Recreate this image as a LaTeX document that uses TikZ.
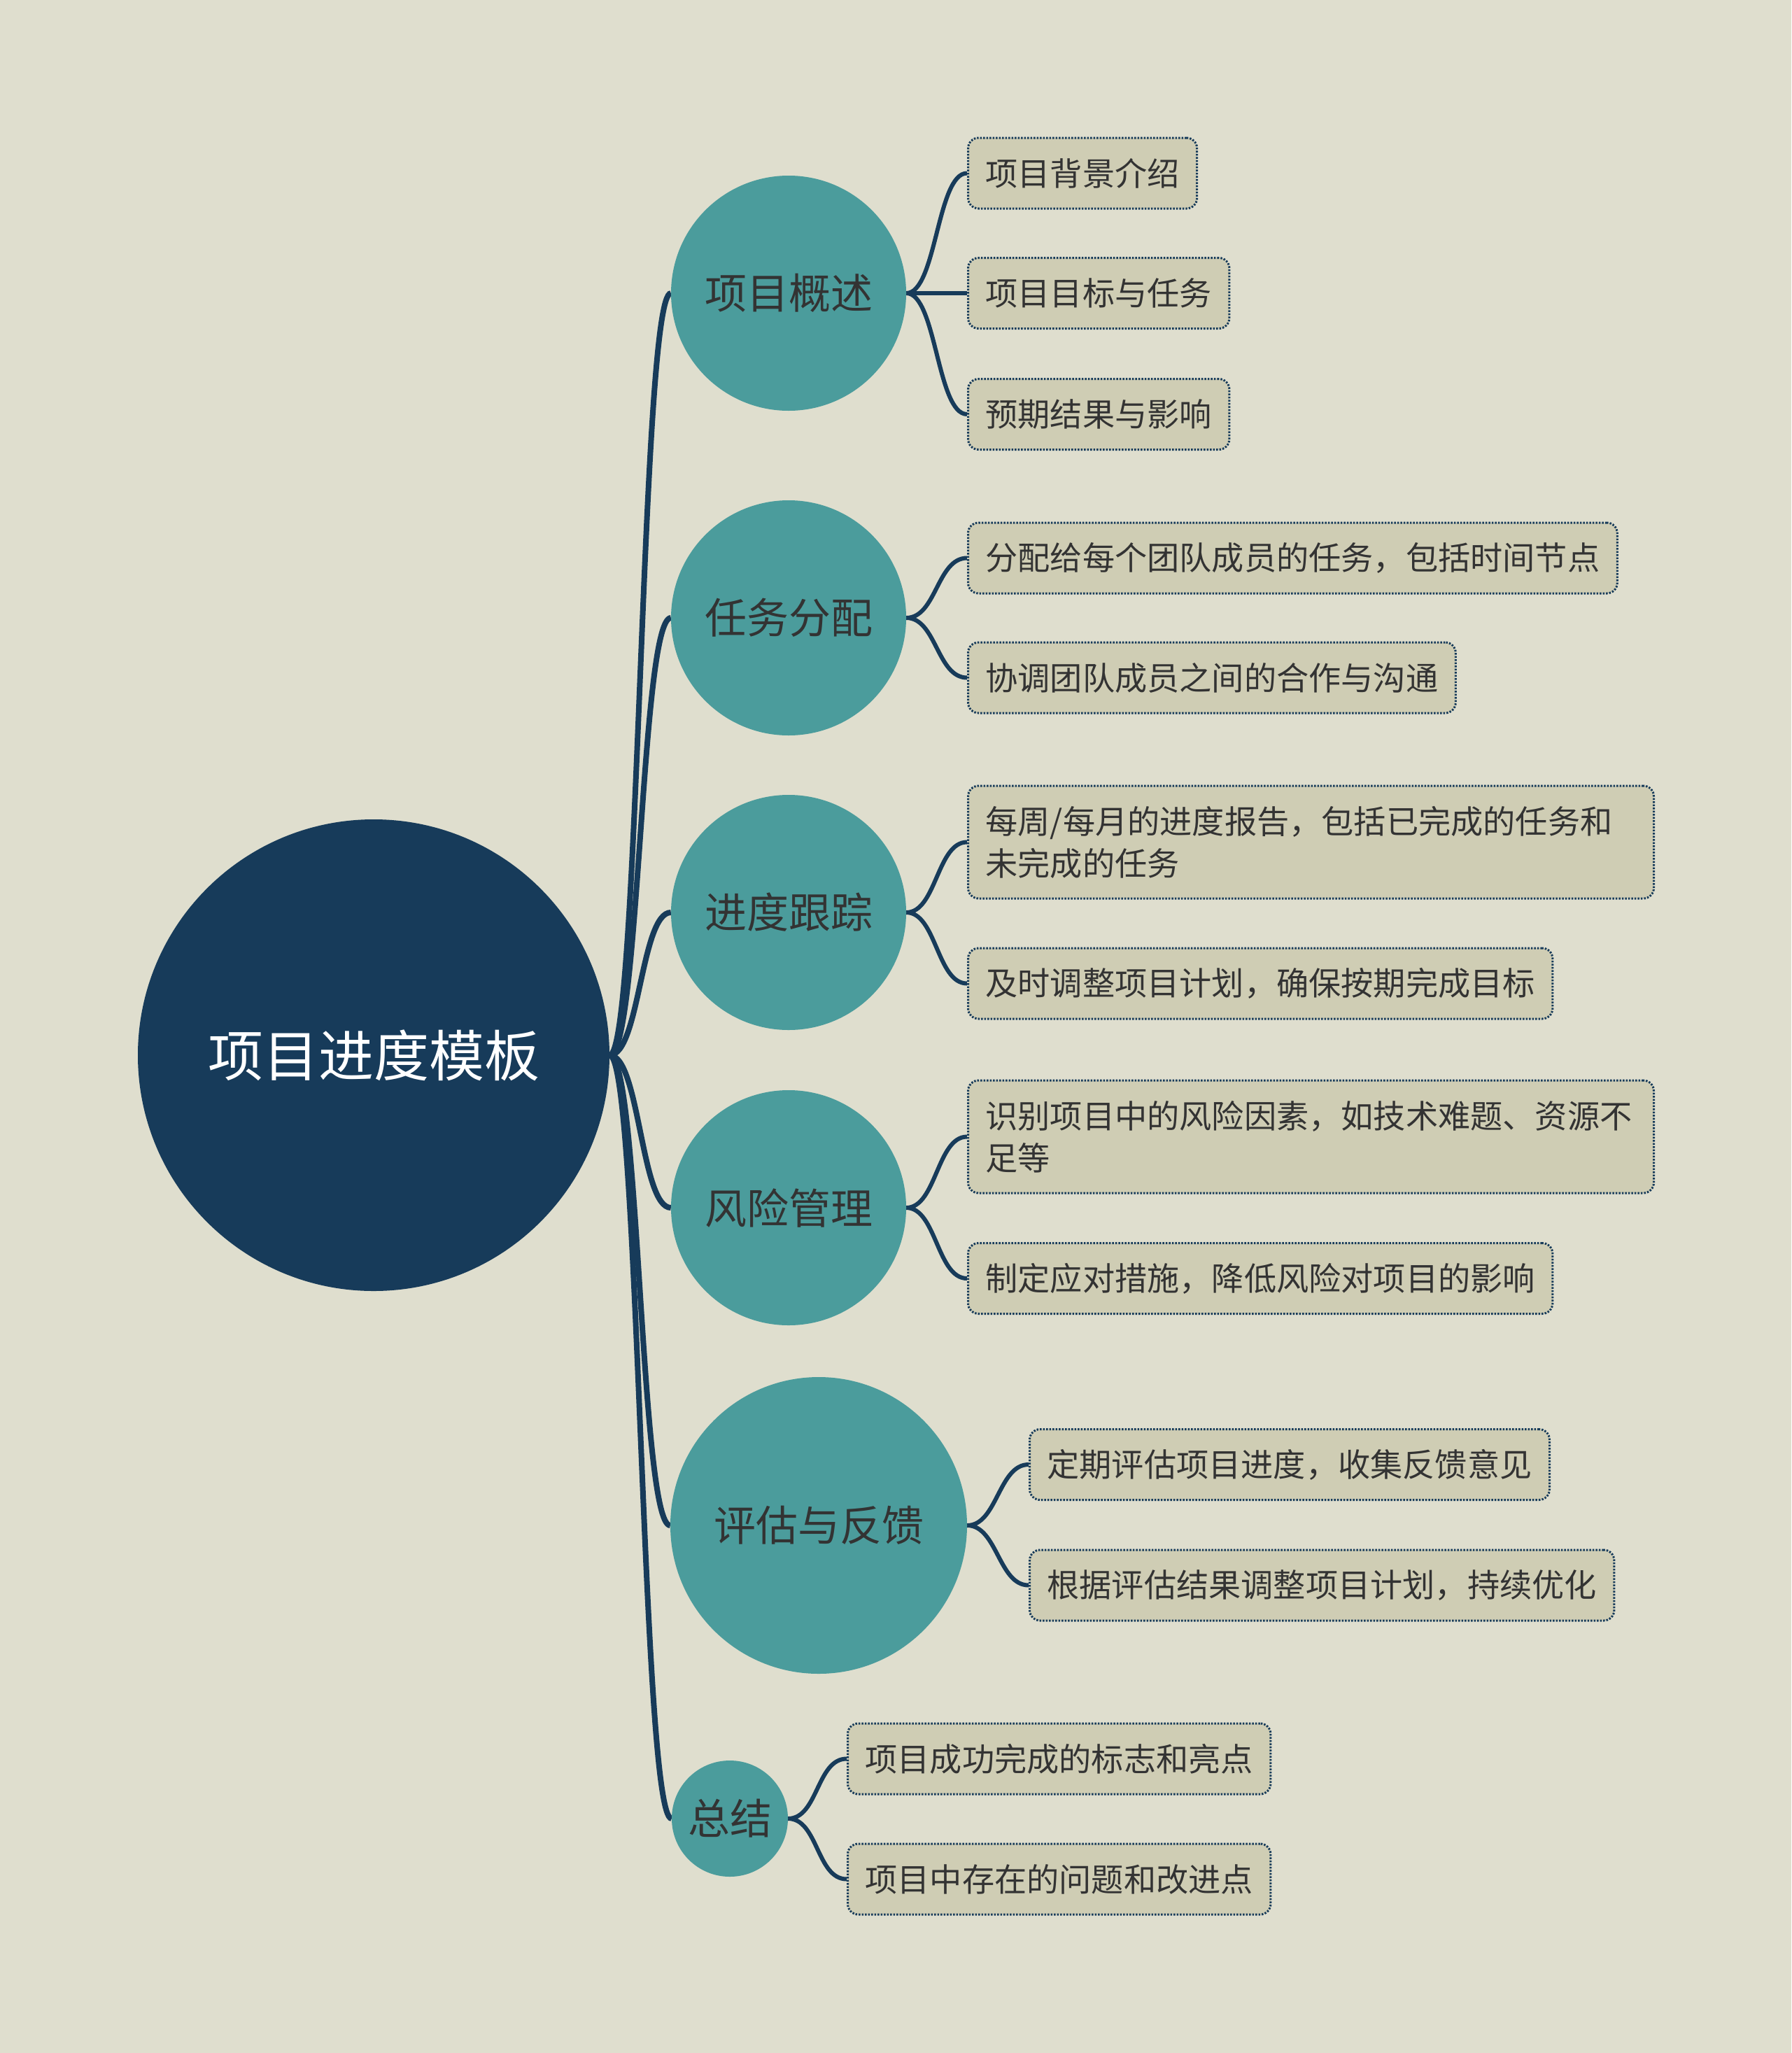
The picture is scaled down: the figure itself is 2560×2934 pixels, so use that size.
\documentclass[tikz,border=0pt]{standalone}
\usepackage{fontspec}
\newfontfamily\cjkfont{Noto Sans CJK SC}
\usetikzlibrary{backgrounds}
\definecolor{bgc}{HTML}{DFDECE}
\definecolor{navy}{HTML}{173B5A}
\definecolor{tealc}{HTML}{4B9C9C}
\definecolor{leaffill}{HTML}{CFCDB4}
\definecolor{txt}{HTML}{333333}
\tikzset{
 rootnode/.style={circle, fill=navy, minimum size=674pt, inner sep=0pt, text=white, font=\cjkfont\fontsize{79}{90}\selectfont},
 branchnode/.style={circle, fill=tealc, inner sep=0pt, text=txt, font=\cjkfont\fontsize{60}{72}\selectfont},
 leafnode/.style={anchor=west, rounded corners=15pt, fill=leaffill, draw=navy, line width=3pt, dash pattern=on 2.5pt off 2pt, text=txt, font=\cjkfont\fontsize{46.2}{60}\selectfont, inner xsep=25pt, inner ysep=0pt, minimum height=101pt},
 widenode/.style={leafnode, text width=930pt, align=left, minimum height=161pt},
 rootlink/.style={draw=navy, line width=8pt},
 leaflink/.style={draw=navy, line width=6pt},
}
\begin{document}
\begin{tikzpicture}[x=1pt,y=-1pt]
\useasboundingbox (0,0) rectangle (2560,2934);
\begin{pgfonlayer}{background}
\fill[bgc] (0,0) rectangle (2560,2934);
\end{pgfonlayer}

\node[rootnode] (root) at (534,1508) {项目进度模板};

\node[branchnode, minimum size=336pt] (b1) at (1127,419) {项目概述};
\node[branchnode, minimum size=336pt] (b2) at (1127,883) {任务分配};
\node[branchnode, minimum size=336pt] (b3) at (1127,1304) {进度跟踪};
\node[branchnode, minimum size=336pt] (b4) at (1127,1726) {风险管理};
\node[branchnode, minimum size=424pt] (b5) at (1170,2180) {评估与反馈};
\node[branchnode, minimum size=166pt] (b6) at (1043,2599) {总结};

\node[leafnode] (l1a) at (1382,247.5) {项目背景介绍};
\node[leafnode] (l1b) at (1382,419) {项目目标与任务};
\node[leafnode] (l1c) at (1382,592) {预期结果与影响};
\node[leafnode] (l2a) at (1382,797.5) {分配给每个团队成员的任务，包括时间节点};
\node[leafnode] (l2b) at (1382,968.5) {协调团队成员之间的合作与沟通};
\node[widenode] (l3a) at (1382,1203.5) {每周/每月的进度报告，包括已完成的任务和\\未完成的任务};
\node[leafnode] (l3b) at (1382,1405.5) {及时调整项目计划，确保按期完成目标};
\node[widenode] (l4a) at (1382,1624.5) {识别项目中的风险因素，如技术难题、资源不\\足等};
\node[leafnode] (l4b) at (1382,1827) {制定应对措施，降低风险对项目的影响};
\node[leafnode] (l5a) at (1470,2093) {定期评估项目进度，收集反馈意见};
\node[leafnode] (l5b) at (1470,2265.5) {根据评估结果调整项目计划，持续优化};
\node[leafnode] (l6a) at (1210,2513.5) {项目成功完成的标志和亮点};
\node[leafnode] (l6b) at (1210,2685.5) {项目中存在的问题和改进点};

\begin{pgfonlayer}{background}
\foreach \b in {b1,b2,b3,b4,b5,b6}
  \draw[rootlink] (root.east) .. controls +(43pt,0pt) and +(-43pt,0pt) .. (\b.west);
\foreach \b/\l in {b1/l1a,b1/l1b,b1/l1c,b2/l2a,b2/l2b,b3/l3a,b3/l3b,b4/l4a,b4/l4b,b5/l5a,b5/l5b,b6/l6a,b6/l6b}
  \draw[leaflink] (\b.east) .. controls +(43pt,0pt) and +(-43pt,0pt) .. (\l.west);
\end{pgfonlayer}
\end{tikzpicture}
\end{document}
